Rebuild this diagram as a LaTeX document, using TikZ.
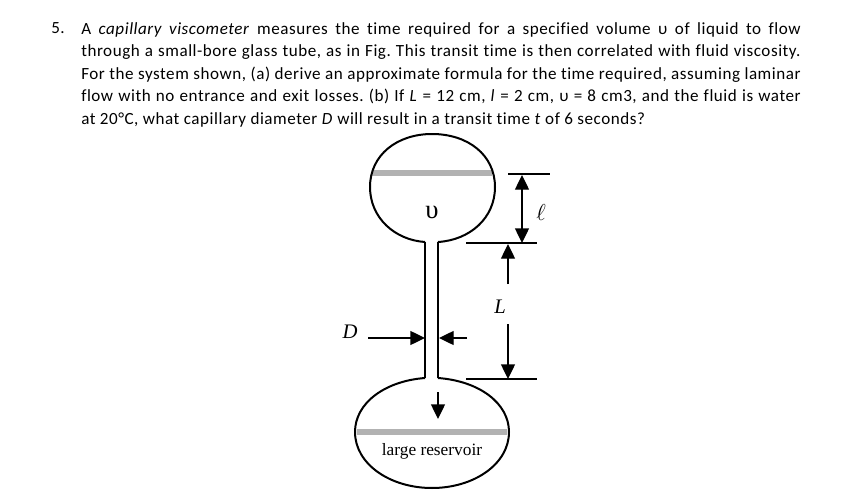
\documentclass[tikz,border=0pt]{standalone}
\usepackage{fontspec}
\setmainfont{Carlito}[LetterSpace=3.2, Ligatures=NoCommon]
\newfontfamily\figfont{Liberation Serif}
\usetikzlibrary{arrows.meta}
\tikzset{%
  >={Triangle[width=10.5pt, length=11pt]}, % makes the arrow heads bold
  % glass outline of bulbs and tube
  glass/.style={draw, line width=1.5pt, line join=round},
  % liquid level
  level/.style={draw=black!30, line width=4pt},
  % dimension lines and arrows
  extline/.style={draw, line width=1pt},
  dimarrow/.style={draw, line width=1pt},
  % question text and picture labels
  qtext/.style={inner sep=0pt, font=\fontsize{12.8}{16.875}\selectfont},
  figlabel/.style={inner sep=0pt, font=\figfont\fontsize{13}{15}\selectfont},
  biglabel/.style={inner sep=0pt, font=\figfont\fontsize{15.5}{18}\selectfont}
}
\begin{document}
\frenchspacing
\begin{tikzpicture}[x=0.75pt, y=-0.75pt]
  \useasboundingbox (0,0) rectangle (850,503);

  % question
  \node[qtext, anchor=north west] (num) at (51,22) {5.};
  \node[qtext, anchor=north west, text width=539.5pt, align=justify] (question) at (81,22) {%
    A \textit{capillary viscometer} measures the time required for a specified volume υ of liquid to flow\linebreak
    through a small-bore glass tube, as in Fig. This transit time is then correlated with fluid viscosity.\linebreak
    For the system shown, (a) derive an approximate formula for the time required, assuming laminar\linebreak
    flow with no entrance and exit losses. (b) If \textit{L} = 12 cm, \textit{l} = 2 cm, υ = 8 cm3, and the fluid is water\linebreak
    at 20°C, what capillary diameter \textit{D} will result in a transit time \textit{t} of 6 seconds?};

  % tube ends
  \coordinate (neckTL) at (425,242);
  \coordinate (neckTR) at (438,242);
  \coordinate (neckBL) at (425,378);
  \coordinate (neckBR) at (438,378);

  % levels first, glass on top
  \coordinate (topL) at (372,173);
  \coordinate (topR) at (492,173);
  \coordinate (lowL) at (357,432);
  \coordinate (lowR) at (507,432);
  \path[level] (topL) -- (topR);
  \path[level] (lowL) -- (lowR);

  % upper bulb
  \path[glass] (neckTL) .. controls (395,240) and (370,218) .. (370,187)
    .. controls (370,155) and (397,134) .. (432,134)
    .. controls (468,134) and (495,155) .. (495,187)
    .. controls (495,218) and (470,240) .. (neckTR);
  % lower bulb
  \path[glass] (neckBL) .. controls (385,381) and (355,403) .. (355,432)
    .. controls (355,464) and (390,488) .. (432,488)
    .. controls (474,488) and (509,464) .. (509,432)
    .. controls (509,403) and (479,381) .. (neckBR);
  % tube
  \path[glass] (neckTL) -- (neckBL);
  \path[glass] (neckTR) -- (neckBR);

  % extension lines
  \coordinate (ellA) at (508,174);
  \coordinate (ellB) at (550,174);
  \coordinate (midA) at (466,243);
  \coordinate (midB) at (537,243);
  \coordinate (botA) at (466,379);
  \coordinate (botB) at (537,379);
  \path[extline] (ellA) -- (ellB);
  \path[extline] (midA) -- (midB);
  \path[extline] (botA) -- (botB);

  % dimension arrows
  \coordinate (ellTop) at (522,175);
  \coordinate (ellBot) at (522,243);
  \coordinate (Lup) at (508,244);
  \coordinate (LupEnd) at (508,284);
  \coordinate (Ldown) at (508,379);
  \coordinate (LdownEnd) at (508,324);
  \coordinate (DlTail) at (368,338);
  \coordinate (DlTip) at (425,338);
  \coordinate (DrTail) at (467,338);
  \coordinate (DrTip) at (439,338);
  \coordinate (flowTail) at (438,392);
  \coordinate (flowTip) at (438,419);
  \path[dimarrow, <->] (ellTop) -- (ellBot);
  \path[dimarrow, ->] (LupEnd) -- (Lup);
  \path[dimarrow, ->] (LdownEnd) -- (Ldown);
  \path[dimarrow, ->] (DlTail) -- (DlTip);
  \path[dimarrow, ->] (DrTail) -- (DrTip);
  \path[dimarrow, ->] (flowTail) -- (flowTip);

  % labels
  \node[biglabel, font=\figfont\fontsize{20}{22}\selectfont] (vol) at (432,212) {υ};
  \node[biglabel, font=\figfont\fontsize{17}{20}\selectfont] (ell) at (541,212) {$\ell$};
  \node[biglabel] (Llabel) at (500,307) {\itshape L};
  \node[biglabel] (Dlabel) at (350,332) {\itshape D};
  \node[figlabel] (reservoir) at (432,451) {large reservoir};
\end{tikzpicture}
\end{document}
